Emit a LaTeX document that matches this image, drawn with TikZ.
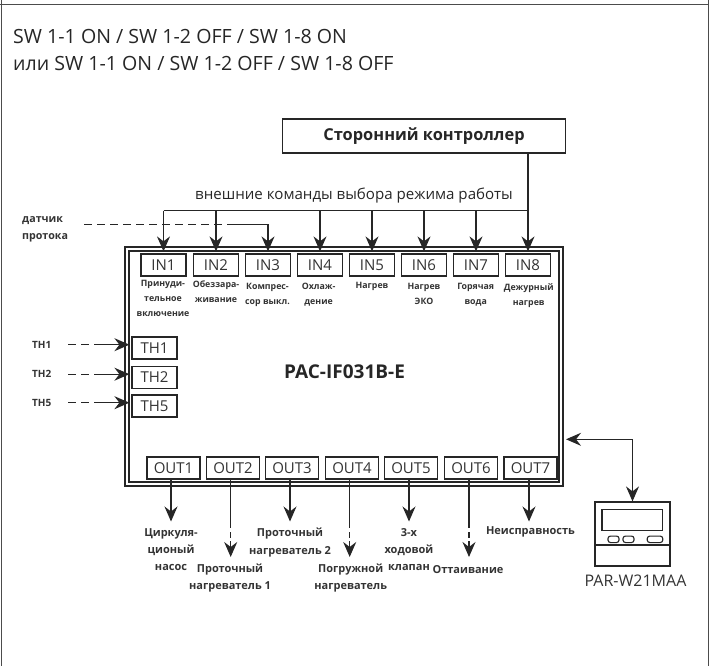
\documentclass[tikz,border=0pt]{standalone}
\usepackage{fontspec}
\setmainfont{Open Sans}
\usepackage{tikz}
\usetikzlibrary{positioning,calc,arrows.meta}

\tikzset{
  portbox/.style={draw=black!85, line width=1.2pt, minimum height=22pt, inner sep=0pt, font=\fontsize{15}{15}\selectfont, text=black!80},
  inbox/.style={portbox, minimum width=45pt},
  outbox/.style={portbox, minimum width=53pt},
  thbox/.style={portbox, minimum width=45pt},
  caption/.style={font=\bfseries\fontsize{8.8}{15}\selectfont, text=black!80, align=center, inner sep=0pt},
  capwide/.style={caption, font=\bfseries\fontsize{11}{17.3}\selectfont},
  wire/.style={line width=1.2pt, draw=black!85},
  sig/.style={wire, -{Stealth[length=15pt,width=13pt,inset=5pt]}},
  dashsig/.style={wire, dash pattern=on 8pt off 5pt},
}

\begin{document}
\begin{tikzpicture}[x=1pt, y=-1pt]
  \useasboundingbox (0,0) rectangle (709,666);
  % outer frame
  \coordinate (frameTL) at (1.5,0);
  \coordinate (frameBL) at (1.5,666);
  \coordinate (frameTR) at (708,0);
  \coordinate (frameBR) at (708,666);
  \draw[line width=1pt, draw=black!70] (frameTL) -- (frameBL);
  \draw[line width=1pt, draw=black!70] (frameTR) -- (frameBR);
  \draw[line width=1pt, draw=black!70] (0,5) -- (709,5);

  % header text
  \node[anchor=west, inner sep=0pt, font=\fontsize{19.6}{20}\selectfont, text=black!85] (line1) at (13,36.5) {SW 1-1 ON / SW 1-2 OFF / SW 1-8 ON};
  \node[anchor=west, inner sep=0pt, font=\fontsize{19.6}{20}\selectfont, text=black!85] (line2) at (13,63.5) {или SW 1-1 ON / SW 1-2 OFF / SW 1-8 OFF};

  % third party controller
  \node[draw=black!85, line width=1.2pt, minimum width=283pt, minimum height=34pt, inner sep=0pt, font=\bfseries\fontsize{16.4}{17}\selectfont, text=black!85] (ctrl) at (424,136) {Сторонний контроллер};
  \node[inner sep=0pt, font=\fontsize{15.1}{16}\selectfont, text=black!85] (cmdText) at (354,196) {внешние команды выбора режима работы};

  % main unit, double line
  \draw[line width=2pt, draw=black!85] (125,247) rectangle (563,486);
  \draw[line width=1.2pt, draw=black!85] (129,251) rectangle (559,482);
  \node[font=\bfseries\fontsize{19}{19}\selectfont, text=black!85, inner sep=0pt] (unit) at (344.5,372) {PAC-IF031B-E};

  % IN ports
  \foreach \name/\cx in {1/163.5,2/216,3/268,4/320,5/372,6/424,7/476,8/528}
    \node[inbox] (in\name) at (\cx,265) {IN\name};

  % captions of the IN ports
  \node[caption, anchor=north] (capIn1) at (163,280) {Принуди-\\тельное\\включение};
  \node[caption, anchor=north] (capIn2) at (216,281) {Обеззара-\\живание};
  \node[caption, anchor=north] (capIn3) at (267.5,283) {Компрес-\\сор выкл.};
  \node[caption, anchor=north] (capIn4) at (318.6,283) {Охлаж-\\дение};
  \node[caption, anchor=north] (capIn5) at (372,282) {Нагрев};
  \node[caption, anchor=north] (capIn6) at (424,283) {Нагрев\\ЭКО};
  \node[caption, anchor=north] (capIn7) at (475.7,283) {Горячая\\вода};
  \node[caption, anchor=north] (capIn8) at (528.7,283) {Дежурный\\нагрев};

  % command bus
  \coordinate (busL) at (163.5,210.7);
  \draw[wire] (ctrl.south -| in8) -- (in8 |- busL);
  \draw[wire] (busL) -- (in8 |- busL);
  \foreach \name in {1,2,4,5,6,7,8}
    \draw[sig, shorten >=2pt] (in\name |- busL) -- (in\name.north);

  % flow sensor
  \node[caption, anchor=north west, align=left, font=\bfseries\fontsize{10.7}{17}\selectfont] (flow) at (22,216.5) {датчик\\протока};
  \coordinate (flowStart) at (84,224.3);
  \coordinate (flowMid) at (230,224.3);
  \draw[dashsig] (flowStart) -- (flowMid);
  \draw[sig, shorten >=2pt] (flowMid) -| (in3.north);

  % temperature inputs
  \foreach \name/\cy in {1/348,2/377.5,5/406} {
    \node[thbox] (th\name) at (154.5,\cy) {TH\name};
    \node[caption, anchor=west, font=\bfseries\fontsize{10}{12}\selectfont] (thLabel\name) at (32,\cy-3.5) {TH\name};
    \coordinate (thStart\name) at (68,\cy-3.3);
    \coordinate (thMid\name) at (95,\cy-3.3);
    \coordinate (thEnd\name) at (th\name.west |- thMid\name);
    \draw[dashsig] (thStart\name) -- (thMid\name);
    \draw[sig, shorten >=2pt] (thMid\name) -- (thEnd\name);
  }

  % OUT ports
  \foreach \name/\cx in {1/173.5,2/233,3/292,4/352,5/411,6/471,7/530.5}
    \node[outbox] (out\name) at (\cx,468) {OUT\name};

  % output arrows, long ones end with a dash
  \foreach \name/\wx in {1/171,3/290,5/409,7/529}
    \draw[sig] (\wx,479) -- (\wx,521.5);
  \foreach \name/\wx in {2/230.7,4/349.7,6/469} {
    \coordinate (tail\name) at (\wx,528);
    \coordinate (dashTop\name) at (\wx,532);
    \coordinate (dashEnd\name) at (\wx,538);
    \coordinate (tipTop\name) at (\wx,541);
    \coordinate (tip\name) at (\wx,557);
    \draw[wire] (\wx,479) -- (tail\name);
    \draw[wire] (dashTop\name) -- (dashEnd\name);
    \draw[sig] (tipTop\name) -- (tip\name);
  }

  % captions of the OUT ports
  \node[capwide, anchor=north] (capOut1) at (171,528) {Циркуля-\\ционый\\насос};
  \node[capwide, anchor=north] (capOut2) at (230,563.5) {Проточный\\нагреватель 1};
  \node[capwide, anchor=north] (capOut3) at (290,528) {Проточный\\нагреватель 2};
  \node[capwide, anchor=north] (capOut4) at (350.7,563.5) {Погружной\\нагреватель};
  \node[capwide, anchor=north] (capOut5) at (409,528) {3-х\\ходовой\\клапан};
  \node[capwide, anchor=north] (capOut6) at (468,565) {Оттаивание};
  \node[capwide, anchor=north] (capOut7) at (530.5,526.5) {Неисправность};

  % remote controller
  \node[draw=black!85, line width=1.2pt, minimum width=75pt, minimum height=64pt, inner sep=0pt] (remote) at (632.5,534) {};
  \node[draw=black!85, line width=1.2pt, minimum width=60.5pt, minimum height=21.5pt, inner sep=0pt] (screen) at (632.3,520) {};
  \node[draw=black!85, line width=1.1pt, rounded corners=2.5pt, minimum width=11pt, minimum height=6.5pt, inner sep=0pt] (btn1) at (613.5,539.3) {};
  \node[draw=black!85, line width=1.1pt, rounded corners=2.5pt, minimum width=11pt, minimum height=6.5pt, inner sep=0pt] (btn2) at (628.5,539.3) {};
  \node[draw=black!85, line width=1.1pt, rounded corners=2.5pt, minimum width=15.5pt, minimum height=6.5pt, inner sep=0pt] (btn3) at (655,539.3) {};
  \coordinate (splitL) at (remote.west |- 0,545);
  \draw[line width=1.2pt, draw=black!85] (splitL) -- (remote.east |- splitL);
  \node[inner sep=0pt, font=\fontsize{16}{16}\selectfont, text=black!80] (remoteName) at (635.5,581) {PAR-W21MAA};
  \coordinate (linkIn) at (566,439.3);
  \draw[wire, {Stealth[length=15pt,width=13pt,inset=5pt]}-{Stealth[length=15pt,width=13pt,inset=5pt]}] (linkIn) -| (remote.north);
\end{tikzpicture}
\end{document}
